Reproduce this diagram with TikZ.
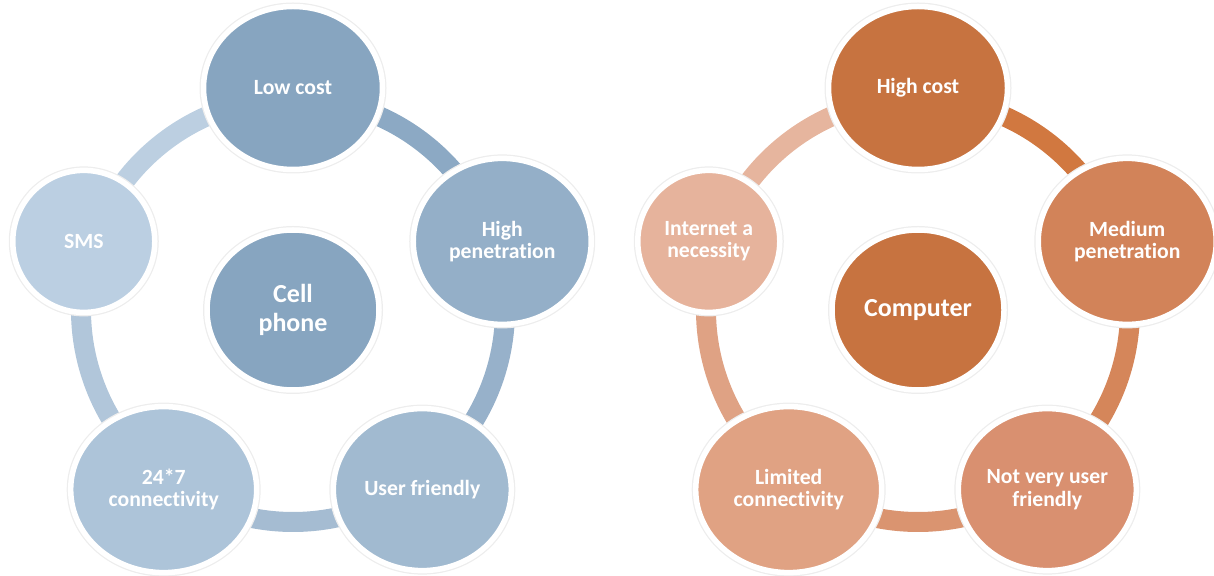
\documentclass[tikz,border=0pt]{standalone}
\usepackage{fontspec}
\setmainfont{Carlito}[Ligatures=NoCommon]
\usetikzlibrary{shapes.geometric,calc}
\definecolor{lA}{HTML}{87A5C0}
\definecolor{lB}{HTML}{94AFC8}
\definecolor{lC}{HTML}{A1BAD0}
\definecolor{lD}{HTML}{ADC4D9}
\definecolor{lE}{HTML}{BBCFE2}
\definecolor{laA}{HTML}{8CA9C4}
\definecolor{laB}{HTML}{97B1CA}
\definecolor{laC}{HTML}{A5BCD2}
\definecolor{laD}{HTML}{B1C6DA}
\definecolor{laE}{HTML}{BCCFE1}
\definecolor{rA}{HTML}{C77340}
\definecolor{rB}{HTML}{D28359}
\definecolor{rC}{HTML}{D99070}
\definecolor{rD}{HTML}{E0A283}
\definecolor{rE}{HTML}{E6B39C}
\definecolor{raA}{HTML}{D17840}
\definecolor{raB}{HTML}{D5865A}
\definecolor{raC}{HTML}{DA9470}
\definecolor{raD}{HTML}{DFA284}
\definecolor{raE}{HTML}{E6B59E}
\begin{document}
\begin{tikzpicture}[x=1pt,y=1pt,
  bub/.style={ellipse, inner sep=0pt, align=center, text=white,
    font=\bfseries\fontsize{21.7}{22.5}\selectfont,
    draw=white, line width=5.5pt,
    preaction={draw=black!7, line width=8pt}},
  bigbub/.style={bub, font=\bfseries\fontsize{26}{29}\selectfont},
  size1/.style={minimum width=179pt, minimum height=163pt},
  size2/.style={minimum width=178pt, minimum height=166pt},
  size3/.style={minimum width=178pt, minimum height=162pt},
  size4/.style={minimum width=186pt, minimum height=166pt},
  size5/.style={minimum width=142pt, minimum height=142pt},
  sizec/.style={minimum width=172pt, minimum height=160pt},
  band/.style={line width=20pt}]
\useasboundingbox (0,0) rectangle (1214,575);

% ---------- left cycle ----------
\coordinate (L) at (293,265);
\foreach \n/\a in {1/90,2/18,3/-54,4/-126,5/162}{
  \coordinate (Lb\n) at ($(L)+(\a:212pt)$);
}
\draw[band, laA] (Lb1) arc[start angle=90, end angle=18, radius=212pt];
\draw[band, laB] (Lb2) arc[start angle=18, end angle=-54, radius=212pt];
\draw[band, laC] (Lb3) arc[start angle=-54, end angle=-126, radius=212pt];
\draw[band, laD] (Lb4) arc[start angle=-126, end angle=-198, radius=212pt];
\draw[band, laE] (Lb5) arc[start angle=162, end angle=90, radius=212pt];

\node[bub, size1, fill=lA] (lowcost) at ($(L)+(90:220pt and 222pt)$) {Low cost};
\node[bub, size2, fill=lB] (highpen) at ($(L)+(18:220pt and 222pt)$) {High\\penetration};
\node[bub, size3, fill=lC] (userf) at ($(L)+(-54:220pt and 222pt)$) {User friendly};
\node[bub, size4, fill=lD] (conn) at ($(L)+(-126:220pt and 222pt)$) {24*7\\connectivity};
\node[bub, size5, fill=lE] (sms) at ($(L)+(162:220pt and 222pt)$) {SMS};
\node[bigbub, sizec, fill=lA] (cell) at (L) {Cell\\phone};

% ---------- right cycle ----------
\coordinate (R) at (918,265);
\foreach \n/\a in {1/90,2/18,3/-54,4/-126,5/162}{
  \coordinate (Rb\n) at ($(R)+(\a:212pt)$);
}
\draw[band, raA] (Rb1) arc[start angle=90, end angle=18, radius=212pt];
\draw[band, raB] (Rb2) arc[start angle=18, end angle=-54, radius=212pt];
\draw[band, raC] (Rb3) arc[start angle=-54, end angle=-126, radius=212pt];
\draw[band, raD] (Rb4) arc[start angle=-126, end angle=-198, radius=212pt];
\draw[band, raE] (Rb5) arc[start angle=162, end angle=90, radius=212pt];

\node[bub, size1, fill=rA] (highcost) at ($(R)+(90:220pt and 222pt)$) {High cost};
\node[bub, size2, fill=rB] (medpen) at ($(R)+(18:220pt and 222pt)$) {Medium\\penetration};
\node[bub, size3, fill=rC] (notuser) at ($(R)+(-54:220pt and 222pt)$) {Not very user\\friendly};
\node[bub, size4, fill=rD] (limconn) at ($(R)+(-126:220pt and 222pt)$) {Limited\\connectivity};
\node[bub, size5, fill=rE] (internet) at ($(R)+(162:220pt and 222pt)$) {Internet a\\necessity};
\node[bigbub, sizec, fill=rA] (computer) at (R) {Computer};
\end{tikzpicture}
\end{document}
